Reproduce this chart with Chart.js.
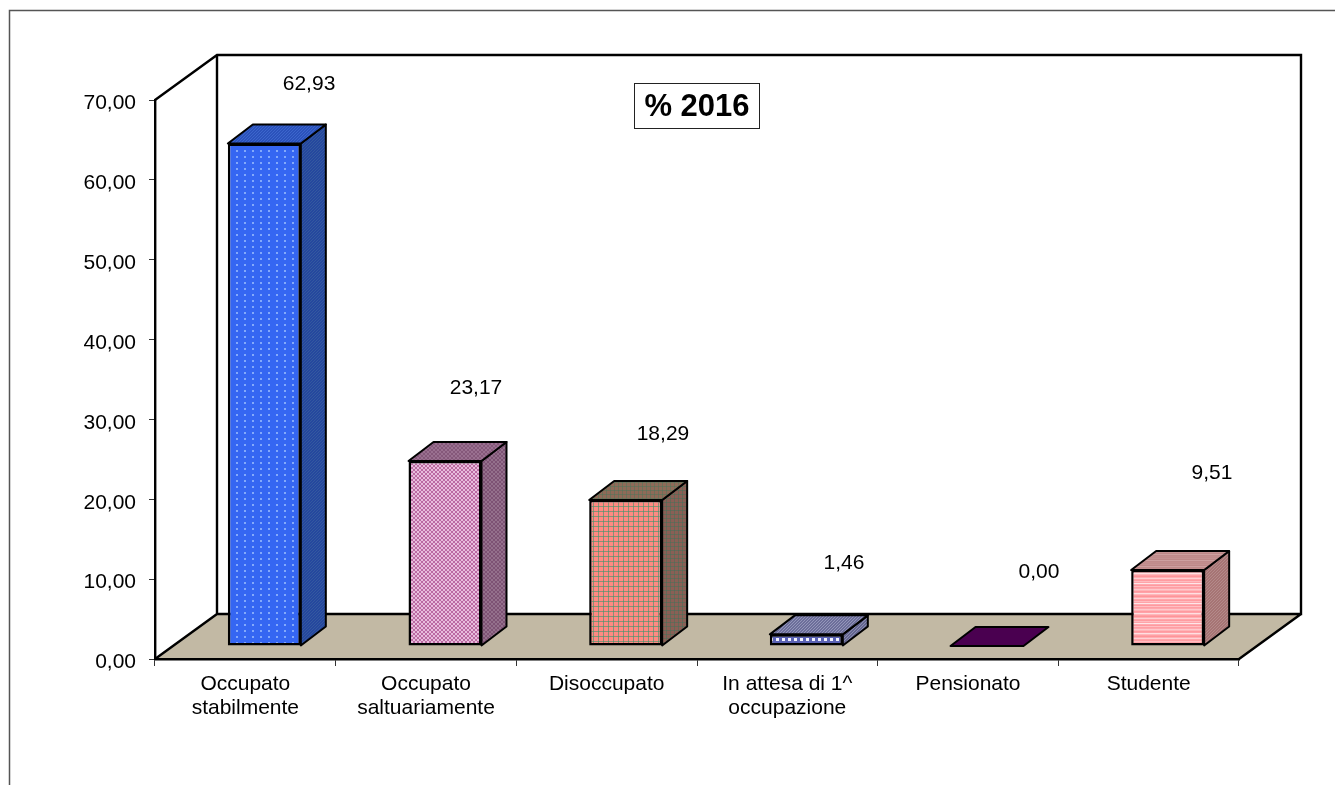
<!DOCTYPE html>
<html><head><meta charset="utf-8">
<style>html,body{margin:0;padding:0;background:#fff;overflow:hidden}canvas{display:block;filter:blur(0.4px)}</style>
<script src="https://cdn.jsdelivr.net/npm/chart.js@4"></script>
</head><body>
<canvas id="c" width="1335" height="785"></canvas>
<script>
const categories = [['Occupato','stabilmente'],['Occupato','saltuariamente'],['Disoccupato'],['In attesa di 1^','occupazione'],['Pensionato'],['Studente']];
const values = [62.93, 23.17, 18.29, 1.46, 0.00, 9.51];
const yTicks = [0, 10, 20, 30, 40, 50, 60, 70];
const chartTitle = '% 2016';

const FONT = '"Liberation Sans", Arial, sans-serif';
const fmt = v => v.toFixed(2).replace('.', ',');

function tile(w, h, paint) {
  const c = document.createElement('canvas'); c.width = w; c.height = h;
  const g = c.getContext('2d'); paint(g, w, h);
  return g.createPattern(c, 'repeat');
}
function dots(base, dot, w, h, s) {
  return tile(w, h, g => { g.fillStyle = base; g.fillRect(0,0,w,h); g.fillStyle = dot; g.fillRect(1,1,s,s); });
}
function diag(a, b, n) {
  return tile(n, n, g => {
    g.fillStyle = a; g.fillRect(0,0,n,n); g.fillStyle = b;
    for (let i = 0; i < n; i++) g.fillRect(i, n-1-i, 1, 1);
  });
}
function check(a, b, s) {
  return tile(s*2, s*2, g => { g.fillStyle = a; g.fillRect(0,0,s*2,s*2); g.fillStyle = b; g.fillRect(0,0,s,s); g.fillRect(s,s,s,s); });
}
function grid(a, b, n) {
  return tile(n, n, g => { g.fillStyle = a; g.fillRect(0,0,n,n); g.fillStyle = b; g.fillRect(0,n-1,n,1); g.fillRect(n-1,0,1,n); });
}
function streaks(colors) {
  const h = colors.length;
  return tile(8, h, g => colors.forEach((c,i) => { g.fillStyle = c; g.fillRect(0,i,8,1); }));
}
const frontFill = [
  dots('#3566f2', 'rgba(165,198,255,0.7)', 8, 6, 2),
  check('#e8bcdc', '#bb6aa2', 2),
  grid('#ff8a82', 'rgba(60,150,110,0.6)', 5),
  dots('#5a62b4', '#f2f2ff', 6, 5, 3),
  '#4a0050',
  streaks(['#ff9ea4','#ffa8ad','#ffc8cc','#ffb4b8','#ff9a9f','#ffa2a8','#ffdfe1','#ffb8bc','#ffa0a5','#ff9498','#ffaeb3','#ffd0d3','#ffa6ab','#ff9ca1','#ffbcc0','#ffa4a9','#ffe6e8','#ffaab0','#ff9a9f','#ffc0c4'])
];
const sideFill = [
  diag('#25479e', '#34599f', 3),
  check('#7d5274', '#94708c', 2),
  grid('#8a5f55', 'rgba(60,115,90,0.45)', 4),
  diag('#63658f', '#8a8cb0', 3),
  '#4a0050',
  diag('#a67474', '#b48a8a', 3)
];
const topFill = [
  diag('#2b52bb', '#3c66cc', 3),
  check('#85587a', '#9a7090', 2),
  grid('#8e6a58', 'rgba(70,120,90,0.45)', 4),
  diag('#6c6e9a', '#9496ba', 3),
  '#4a0050',
  streaks(['#c08c8c','#c49292','#bd8888','#cda0a0','#bf8b8b','#c28e8e'])
];

const WALL = {dx: 62, dy: -45};
const BAR = {dx: 19, dy: -13, depthX: 25, depthY: -19};
const labelShift = [[63.7,-72.4],[50,-86],[56.3,-78.9],[56.7,-84.3],[71,-87],[63.3,-110]];

const scene = {
  id: 'scene',
  afterLayout(chart) {
    const t = chart.titleBlock;
    if (t) { t.left = 547; t.right = 847; t.top = 92; t.bottom = 123; }
    const s = chart.scales.y;
    if (!s._shifted) {
      const orig = s._computeLabelItems;
      s._computeLabelItems = function (a) {
        const items = orig.call(this, a);
        items.forEach(it => { it.options.translation[1] += 3.5; });
        return items;
      };
      s._shifted = true;
    }
  },
  beforeDraw(chart) {
    const {ctx, chartArea: a} = chart;
    const {left:l, right:r, top:tp, bottom:b} = a;
    const {dx, dy} = WALL;
    ctx.save();
    ctx.strokeStyle = '#555'; ctx.lineWidth = 1.5;
    ctx.beginPath(); ctx.moveTo(9.5, 785); ctx.lineTo(9.5, 10.5); ctx.lineTo(1335, 10.5); ctx.stroke();
    ctx.fillStyle = '#c2b9a4';
    ctx.beginPath(); ctx.moveTo(l,b); ctx.lineTo(r,b); ctx.lineTo(r+dx,b+dy); ctx.lineTo(l+dx,b+dy); ctx.closePath(); ctx.fill();
    ctx.strokeStyle = '#000'; ctx.lineWidth = 2.4; ctx.lineJoin = 'miter';
    ctx.beginPath();
    ctx.moveTo(l,tp); ctx.lineTo(l+dx,tp+dy); ctx.lineTo(r+dx,tp+dy); ctx.lineTo(r+dx,b+dy); ctx.lineTo(l+dx,b+dy); ctx.lineTo(l+dx,tp+dy);
    ctx.moveTo(l,b); ctx.lineTo(l+dx,b+dy);
    ctx.moveTo(r,b); ctx.lineTo(r+dx,b+dy);
    ctx.stroke();
    ctx.fillStyle = '#fff'; ctx.strokeStyle = '#222'; ctx.lineWidth = 1;
    ctx.fillRect(634.5,83.5,125,45); ctx.strokeRect(634.5,83.5,125,45);
    ctx.restore();
  },
  beforeDatasetDraw(chart, args) {
    const {ctx} = chart;
    ctx.save();
    ctx.translate(BAR.dx, BAR.dy);
    const {depthX: ox, depthY: oy} = BAR;
    args.meta.data.forEach((el, i) => {
      const p = el.getProps(['x','y','base','width'], true);
      const x0 = p.x - p.width/2, x1 = p.x + p.width/2, yt = p.y, yb = p.base;
      ctx.lineWidth = 2; ctx.strokeStyle = '#000'; ctx.lineJoin = 'round';
      if (yb - yt > 0.5) {
        ctx.fillStyle = sideFill[i];
        ctx.beginPath(); ctx.moveTo(x1,yt); ctx.lineTo(x1+ox,yt+oy); ctx.lineTo(x1+ox,yb+oy); ctx.lineTo(x1,yb); ctx.closePath();
        ctx.fill(); ctx.stroke();
      }
      ctx.fillStyle = topFill[i];
      ctx.beginPath(); ctx.moveTo(x0,yt); ctx.lineTo(x1,yt); ctx.lineTo(x1+ox,yt+oy); ctx.lineTo(x0+ox,yt+oy); ctx.closePath();
      ctx.fill(); ctx.stroke();
    });
  },
  afterDatasetDraw(chart) { chart.ctx.restore(); },
  afterDatasetsDraw(chart) {
    const {ctx} = chart;
    ctx.save();
    ctx.fillStyle = '#000'; ctx.font = '21px ' + FONT; ctx.textAlign = 'center'; ctx.textBaseline = 'middle';
    chart.getDatasetMeta(0).data.forEach((el, i) => {
      ctx.fillText(fmt(values[i]), el.x + labelShift[i][0], el.y + labelShift[i][1]);
    });
    ctx.restore();
  }
};

new Chart(document.getElementById('c'), {
  type: 'bar',
  data: {
    labels: categories,
    datasets: [{
      label: chartTitle,
      data: values,
      backgroundColor: frontFill,
      borderColor: '#000',
      borderWidth: 2.5,
      borderSkipped: false,
      categoryPercentage: 1,
      barPercentage: 0.404,
      clip: false
    }]
  },
  plugins: [scene],
  options: {
    responsive: false,
    animation: false,
    layout: {padding: {left: 55, right: 96, top: 69, bottom: 0}},
    plugins: {
      legend: {display: false},
      tooltip: {enabled: false},
      title: {display: true, text: chartTitle, color: '#000', padding: 0,
              font: {family: FONT, size: 31, weight: 'bold', lineHeight: 1}}
    },
    scales: {
      x: {
        afterFit: s => { s.height = 126; },
        grid: {drawOnChartArea: false, drawTicks: true, tickLength: 7, color: '#333', lineWidth: 1},
        border: {color: '#000', width: 2.4},
        ticks: {color: '#000', font: {family: FONT, size: 21, lineHeight: 1.15}, maxRotation: 0, autoSkip: false, padding: 6}
      },
      y: {
        min: 0, max: 70,
        afterFit: s => { s.width = 100; },
        afterBuildTicks: s => { s.ticks = yTicks.map(v => ({value: v})); },
        grid: {drawOnChartArea: false, drawTicks: true, tickLength: 6, color: '#333', lineWidth: 1},
        border: {color: '#000', width: 2.4},
        ticks: {color: '#000', font: {family: FONT, size: 21}, padding: 13, callback: v => fmt(v)}
      }
    }
  }
});
</script>
</body></html>
